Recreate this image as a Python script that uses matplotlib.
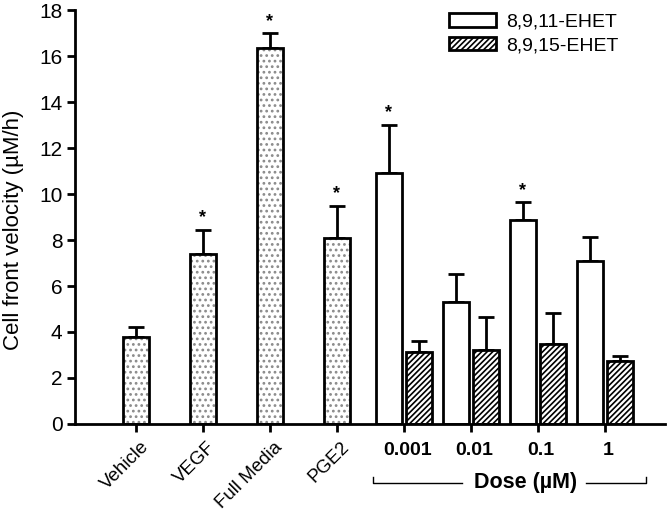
import matplotlib
matplotlib.use('Agg')
import matplotlib.pyplot as plt
import matplotlib.transforms as mtransforms
from matplotlib.patches import Patch
import numpy as np

plt.rcParams['font.family'] = ['Liberation Sans', 'DejaVu Sans']
plt.rcParams['hatch.linewidth'] = 1.2

# control groups
controls = ['Vehicle', 'VEGF', 'Full Media', 'PGE2']
control_vals = [3.8, 7.4, 16.35, 8.1]
control_err = [0.42, 1.05, 0.65, 1.4]
control_sig = [False, True, True, True]

# dose groups
doses = ['0.001', '0.01', '0.1', '1']
ehet11_vals = [10.9, 5.32, 8.87, 7.09]
ehet11_err = [2.1, 1.21, 0.78, 1.05]
ehet11_sig = [True, False, True, False]
ehet15_vals = [3.13, 3.22, 3.46, 2.74]
ehet15_err = [0.47, 1.45, 1.38, 0.22]

fig = plt.figure(figsize=(6.67, 5.11), dpi=100)
ax = fig.add_axes([0.1124, 0.1703, 0.885, 0.81])

lw = 2.0
bw = 0.38
off = 0.225
ekw = dict(elinewidth=lw, capthick=lw, capsize=6, ecolor='black')

xc = np.arange(1, len(controls) + 1)
xd = np.arange(len(controls) + 1, len(controls) + len(doses) + 1)

# stippled control bars: light dots first, outline on top
ax.bar(xc, control_vals, bw, color='white', edgecolor='#8a8a8a', linewidth=0,
       hatch='...', zorder=2)
ax.bar(xc, control_vals, bw, color='none', edgecolor='black', linewidth=lw, zorder=3)
ax.errorbar(xc, control_vals, yerr=[np.zeros(len(xc)), control_err], fmt='none', zorder=1, **ekw)

ax.bar(xd - off, ehet11_vals, bw, color='white', edgecolor='black', linewidth=lw, zorder=2)
ax.errorbar(xd - off, ehet11_vals, yerr=[np.zeros(len(xd)), ehet11_err], fmt='none', zorder=1, **ekw)
ax.bar(xd + off, ehet15_vals, bw, color='white', edgecolor='black', linewidth=lw,
       hatch='//////', zorder=2)
ax.errorbar(xd + off, ehet15_vals, yerr=[np.zeros(len(xd)), ehet15_err], fmt='none', zorder=1, **ekw)

# significance stars
for x, v, e, s in zip(xc, control_vals, control_err, control_sig):
    if s:
        ax.text(x, v + e + 0.15, '*', ha='center', va='bottom', fontsize=13, fontweight='bold')
for x, v, e, s in zip(xd - off, ehet11_vals, ehet11_err, ehet11_sig):
    if s:
        ax.text(x, v + e + 0.15, '*', ha='center', va='bottom', fontsize=13, fontweight='bold')

ax.set_xlim(0.09, 8.9)
ax.set_ylim(0, 18)
ax.set_yticks(np.arange(0, 19, 2))
ax.tick_params(axis='y', labelsize=15, width=lw, length=6, direction='out', pad=3)
ax.tick_params(axis='x', width=lw, length=6, direction='out')
ax.set_xticks(np.concatenate([xc, xd]))
ax.set_xticklabels([])
for sp in ['top', 'right']:
    ax.spines[sp].set_visible(False)
for sp in ['left', 'bottom']:
    ax.spines[sp].set_linewidth(lw)

ax.set_ylabel('Cell front velocity (\u00b5M/h)', fontsize=16)
ax.yaxis.set_label_coords(-0.086, 0.47)

trans = mtransforms.blended_transform_factory(ax.transData, ax.transAxes)
for x, lab in zip(xc, controls):
    ax.text(x + 0.06, -0.035, lab, transform=trans, rotation=45, ha='right', va='top',
            rotation_mode='anchor', fontsize=13.5)
for x, lab in zip(xd, doses):
    ax.text(x + 0.05, -0.065, lab, transform=trans, ha='center', va='center',
            fontsize=14, fontweight='bold')

# dose bracket
yb, yt = -0.1425, -0.128
ax.plot([4.54, 4.54, 5.86], [yt, yb, yb], transform=trans, color='black', lw=1, clip_on=False)
ax.plot([7.72, 8.61, 8.61], [yb, yb, yt], transform=trans, color='black', lw=1, clip_on=False)
ax.text(6.82, yb, 'Dose (\u00b5M)', transform=trans, ha='center', va='center',
        fontsize=15.5, fontweight='bold')

handles = [Patch(facecolor='white', edgecolor='black', linewidth=lw, label='8,9,11-EHET'),
           Patch(facecolor='white', edgecolor='black', linewidth=lw, hatch='//////', label='8,9,15-EHET')]
ax.legend(handles=handles, loc='upper right', bbox_to_anchor=(0.95, 1.035), frameon=False,
          fontsize=14, handlelength=2.4, handleheight=0.7, handletextpad=0.5, labelspacing=0.3)

fig.savefig('out.png', dpi=100)
